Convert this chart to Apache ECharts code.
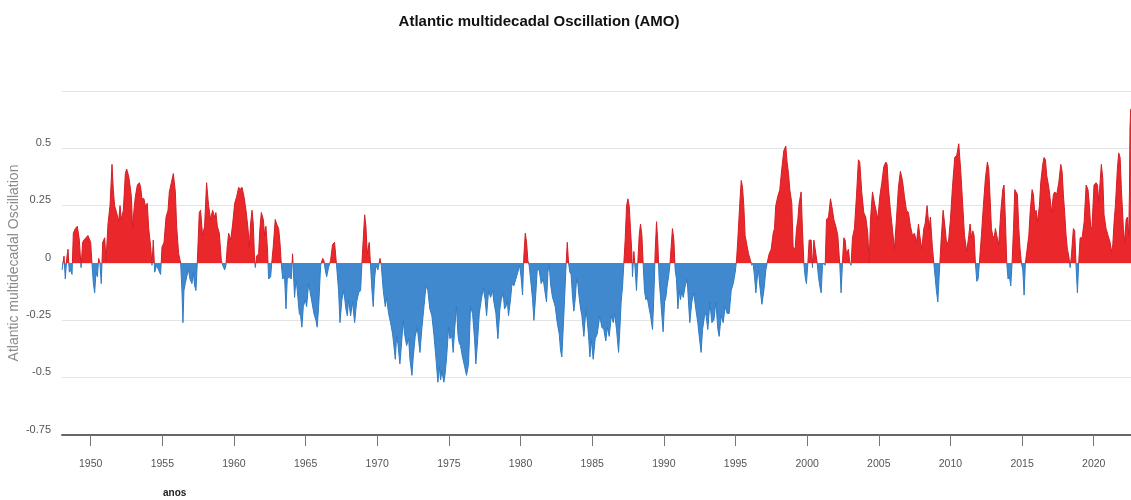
<!DOCTYPE html>
<html><head><meta charset="utf-8">
<script src="https://cdn.jsdelivr.net/npm/echarts@6/dist/echarts.min.js"></script>
<style>html,body{margin:0;padding:0;background:#fff}#chart{width:1131px;height:500px}</style>
</head><body><div id="chart"></div>
<script>
const titleText = 'Atlantic multidecadal Oscillation (AMO)';
const yAxisName = 'Atlantic multidecadal Oscillation';
const xAxisName = 'anos';
const xTickYears = [1950,1955,1960,1965,1970,1975,1980,1985,1990,1995,2000,2005,2010,2015,2020];
const yTickValues = [-0.75,-0.5,-0.25,0,0.25,0.5,0.75];

// [decimal year, AMO index]
const amo1948to1960 = [[1948.00,-0.03],[1948.05,-0.01],[1948.14,0.03],[1948.23,-0.07],[1948.33,0.02],[1948.42,0.06],[1948.51,-0.04],[1948.60,-0.03],[1948.70,-0.05],[1948.79,0.13],[1948.93,0.15],[1949.07,0.16],[1949.21,0.10],[1949.33,-0.02],[1949.44,0.09],[1949.53,0.10],[1949.67,0.11],[1949.81,0.12],[1949.91,0.12],[1950.00,0.09],[1950.09,0.00],[1950.19,-0.09],[1950.28,-0.13],[1950.37,-0.04],[1950.47,-0.06],[1950.56,0.02],[1950.65,0.00],[1950.74,-0.09],[1950.84,0.09],[1950.98,0.11],[1951.07,0.01],[1951.21,0.17],[1951.35,0.25],[1951.49,0.43],[1951.58,0.32],[1951.67,0.25],[1951.81,0.22],[1951.95,0.18],[1952.05,0.25],[1952.14,0.19],[1952.28,0.23],[1952.42,0.39],[1952.51,0.41],[1952.65,0.38],[1952.74,0.34],[1952.84,0.29],[1952.93,0.15],[1953.02,0.23],[1953.12,0.29],[1953.26,0.34],[1953.40,0.35],[1953.49,0.33],[1953.58,0.28],[1953.72,0.28],[1953.81,0.25],[1953.95,0.26],[1954.05,0.15],[1954.19,0.07],[1954.28,-0.01],[1954.37,0.10],[1954.47,-0.04],[1954.60,-0.01],[1954.74,-0.03],[1954.88,-0.05],[1954.98,0.07],[1955.12,0.09],[1955.26,0.20],[1955.40,0.23],[1955.49,0.31],[1955.63,0.35],[1955.77,0.39],[1955.91,0.31],[1956.00,0.16],[1956.14,0.04],[1956.28,0.00],[1956.37,-0.12],[1956.44,-0.26],[1956.51,-0.12],[1956.60,-0.09],[1956.70,-0.06],[1956.84,-0.03],[1956.93,-0.07],[1957.07,-0.09],[1957.16,-0.04],[1957.26,-0.10],[1957.35,-0.12],[1957.44,0.00],[1957.58,0.22],[1957.67,0.23],[1957.81,0.12],[1957.95,0.16],[1958.09,0.35],[1958.23,0.25],[1958.37,0.19],[1958.51,0.23],[1958.65,0.20],[1958.74,0.22],[1958.84,0.16],[1958.98,0.13],[1959.12,0.01],[1959.21,-0.01],[1959.35,-0.03],[1959.44,-0.01],[1959.53,0.07],[1959.63,0.13],[1959.77,0.10],[1959.91,0.17],[1960.05,0.26],[1960.19,0.29],[1960.33,0.33]];

const amo1960to1973 = [[1960.42,0.32],[1960.56,0.33],[1960.70,0.29],[1960.84,0.23],[1960.98,0.15],[1961.07,0.07],[1961.16,0.17],[1961.26,0.23],[1961.35,0.17],[1961.44,0.01],[1961.49,-0.02],[1961.58,0.03],[1961.72,0.04],[1961.81,0.15],[1961.91,0.22],[1962.05,0.19],[1962.14,0.12],[1962.23,0.16],[1962.33,0.07],[1962.42,-0.07],[1962.56,-0.06],[1962.65,0.01],[1962.74,0.07],[1962.88,0.19],[1962.98,0.17],[1963.12,0.15],[1963.21,0.09],[1963.30,0.00],[1963.40,-0.07],[1963.53,-0.06],[1963.63,-0.20],[1963.72,-0.07],[1963.86,-0.06],[1964.00,-0.07],[1964.09,0.04],[1964.23,-0.15],[1964.33,-0.07],[1964.42,-0.12],[1964.56,-0.22],[1964.65,-0.23],[1964.74,-0.28],[1964.84,-0.19],[1964.98,-0.16],[1965.07,-0.19],[1965.21,-0.09],[1965.30,-0.12],[1965.44,-0.17],[1965.58,-0.22],[1965.72,-0.25],[1965.81,-0.28],[1965.91,-0.19],[1966.05,-0.01],[1966.19,0.02],[1966.28,0.01],[1966.37,-0.03],[1966.47,-0.06],[1966.60,-0.02],[1966.74,0.01],[1966.88,0.08],[1967.02,0.09],[1967.16,-0.01],[1967.30,-0.12],[1967.40,-0.26],[1967.53,-0.16],[1967.67,-0.12],[1967.81,-0.20],[1967.91,-0.23],[1968.00,-0.16],[1968.14,-0.23],[1968.28,-0.17],[1968.42,-0.26],[1968.56,-0.17],[1968.70,-0.13],[1968.84,-0.12],[1968.93,0.00],[1969.02,0.10],[1969.12,0.21],[1969.21,0.16],[1969.30,0.04],[1969.44,0.09],[1969.53,-0.01],[1969.63,-0.12],[1969.72,-0.19],[1969.81,-0.07],[1969.91,-0.01],[1970.05,-0.03],[1970.19,0.02],[1970.28,-0.01],[1970.42,-0.12],[1970.56,-0.19],[1970.65,-0.15],[1970.79,-0.22],[1970.93,-0.26],[1971.07,-0.31],[1971.16,-0.36],[1971.26,-0.42],[1971.35,-0.32],[1971.44,-0.35],[1971.58,-0.44],[1971.72,-0.33],[1971.81,-0.25],[1971.91,-0.31],[1972.05,-0.36],[1972.19,-0.33],[1972.28,-0.42],[1972.42,-0.49],[1972.51,-0.41],[1972.65,-0.32],[1972.79,-0.28]];

const amo1973to1985 = [[1972.98,-0.39],[1973.12,-0.28],[1973.26,-0.19],[1973.40,-0.10],[1973.53,-0.12],[1973.67,-0.20],[1973.81,-0.23],[1973.95,-0.31],[1974.09,-0.41],[1974.23,-0.52],[1974.33,-0.45],[1974.42,-0.51],[1974.51,-0.47],[1974.65,-0.52],[1974.74,-0.48],[1974.84,-0.41],[1974.98,-0.28],[1975.07,-0.33],[1975.21,-0.32],[1975.30,-0.39],[1975.40,-0.29],[1975.53,-0.19],[1975.63,-0.31],[1975.72,-0.35],[1975.81,-0.36],[1975.95,-0.41],[1976.09,-0.45],[1976.23,-0.49],[1976.37,-0.44],[1976.51,-0.19],[1976.65,-0.22],[1976.79,-0.33],[1976.88,-0.44],[1976.98,-0.36],[1977.12,-0.22],[1977.26,-0.16],[1977.40,-0.11],[1977.53,-0.16],[1977.63,-0.23],[1977.77,-0.12],[1977.91,-0.15],[1978.05,-0.12],[1978.14,-0.17],[1978.28,-0.22],[1978.42,-0.33],[1978.56,-0.20],[1978.65,-0.16],[1978.79,-0.13],[1978.88,-0.20],[1978.98,-0.19],[1979.07,-0.16],[1979.16,-0.23],[1979.30,-0.16],[1979.40,-0.09],[1979.53,-0.10],[1979.67,-0.07],[1979.81,-0.04],[1979.95,-0.01],[1980.05,-0.07],[1980.14,-0.14],[1980.23,0.03],[1980.33,0.13],[1980.42,0.09],[1980.51,0.01],[1980.60,-0.01],[1980.70,-0.07],[1980.84,-0.16],[1980.93,-0.25],[1981.07,-0.13],[1981.16,-0.03],[1981.30,-0.03],[1981.44,-0.09],[1981.58,-0.07],[1981.67,-0.11],[1981.81,-0.17],[1981.91,-0.04],[1982.00,0.00],[1982.09,-0.09],[1982.23,-0.15],[1982.33,-0.17],[1982.42,-0.19],[1982.56,-0.26],[1982.70,-0.31],[1982.79,-0.38],[1982.88,-0.41],[1982.98,-0.28],[1983.07,-0.16],[1983.16,-0.03],[1983.26,0.09],[1983.35,0.00],[1983.44,-0.04],[1983.53,-0.05],[1983.63,-0.15],[1983.72,-0.21],[1983.81,-0.16],[1983.91,-0.07],[1984.00,-0.09],[1984.09,-0.15],[1984.19,-0.20],[1984.28,-0.23],[1984.42,-0.32],[1984.56,-0.20],[1984.65,-0.25],[1984.74,-0.31],[1984.84,-0.41],[1984.93,-0.33],[1985.07,-0.42],[1985.21,-0.33],[1985.35,-0.31]];

const amo1985to1998 = [[1985.53,-0.23],[1985.67,-0.28],[1985.81,-0.29],[1985.95,-0.34],[1986.05,-0.28],[1986.19,-0.32],[1986.33,-0.23],[1986.47,-0.26],[1986.56,-0.22],[1986.70,-0.29],[1986.84,-0.39],[1986.93,-0.29],[1987.02,-0.17],[1987.12,-0.10],[1987.21,0.00],[1987.30,0.10],[1987.40,0.25],[1987.49,0.28],[1987.58,0.25],[1987.67,0.15],[1987.77,0.04],[1987.81,-0.06],[1987.91,0.05],[1988.00,-0.03],[1988.09,-0.12],[1988.19,0.01],[1988.28,0.12],[1988.37,0.17],[1988.47,0.12],[1988.56,-0.01],[1988.65,-0.12],[1988.74,-0.16],[1988.84,-0.15],[1988.98,-0.20],[1989.07,-0.23],[1989.21,-0.29],[1989.30,-0.15],[1989.40,0.06],[1989.49,0.18],[1989.58,0.09],[1989.67,-0.07],[1989.77,-0.15],[1989.86,-0.23],[1989.95,-0.30],[1990.05,-0.17],[1990.14,-0.15],[1990.23,-0.10],[1990.33,-0.06],[1990.42,-0.01],[1990.51,0.07],[1990.60,0.15],[1990.70,0.10],[1990.79,-0.03],[1990.88,-0.07],[1990.98,-0.20],[1991.07,-0.12],[1991.16,-0.16],[1991.26,-0.12],[1991.35,-0.15],[1991.49,-0.10],[1991.63,-0.07],[1991.72,-0.17],[1991.81,-0.26],[1991.95,-0.17],[1992.09,-0.13],[1992.23,-0.20],[1992.37,-0.26],[1992.47,-0.32],[1992.60,-0.39],[1992.70,-0.29],[1992.84,-0.23],[1992.93,-0.22],[1993.07,-0.29],[1993.21,-0.17],[1993.35,-0.26],[1993.49,-0.25],[1993.63,-0.17],[1993.77,-0.29],[1993.86,-0.32],[1994.00,-0.23],[1994.14,-0.26],[1994.28,-0.19],[1994.42,-0.22],[1994.56,-0.22],[1994.70,-0.12],[1994.84,-0.09],[1994.98,-0.04],[1995.07,0.01],[1995.16,0.10],[1995.30,0.26],[1995.40,0.36],[1995.49,0.33],[1995.58,0.25],[1995.67,0.12],[1995.77,0.12],[1995.91,0.04],[1996.05,0.01],[1996.14,-0.01],[1996.23,0.00],[1996.33,-0.06],[1996.42,-0.13],[1996.51,-0.07],[1996.60,-0.03],[1996.70,-0.10],[1996.84,-0.18],[1996.98,-0.12],[1997.12,-0.03],[1997.21,0.00],[1997.35,0.04],[1997.49,0.06],[1997.63,0.13],[1997.72,0.15],[1997.81,0.25],[1997.95,0.29]];

const amo1998to2010 = [[1998.09,0.32],[1998.23,0.41],[1998.37,0.49],[1998.51,0.51],[1998.60,0.44],[1998.70,0.39],[1998.79,0.32],[1998.93,0.26],[1999.02,0.07],[1999.16,0.06],[1999.26,0.15],[1999.35,0.19],[1999.44,0.26],[1999.58,0.31],[1999.67,0.15],[1999.77,0.00],[1999.86,-0.06],[1999.95,-0.09],[2000.05,0.00],[2000.14,0.10],[2000.28,0.10],[2000.37,-0.02],[2000.47,0.10],[2000.60,0.10],[2000.70,0.00],[2000.79,-0.06],[2000.88,-0.10],[2000.98,-0.13],[2001.07,-0.01],[2001.16,0.00],[2001.26,-0.01],[2001.35,0.19],[2001.49,0.20],[2001.63,0.28],[2001.77,0.23],[2001.86,0.19],[2002.00,0.16],[2002.14,0.12],[2002.28,-0.01],[2002.37,-0.13],[2002.47,0.01],[2002.56,0.11],[2002.65,0.10],[2002.74,0.04],[2002.88,0.06],[2002.98,0.00],[2003.07,-0.01],[2003.16,0.11],[2003.30,0.15],[2003.44,0.29],[2003.58,0.45],[2003.67,0.44],[2003.81,0.31],[2003.95,0.22],[2004.09,0.20],[2004.23,0.13],[2004.33,0.00],[2004.42,0.19],[2004.56,0.31],[2004.70,0.26],[2004.84,0.22],[2004.93,0.19],[2005.07,0.29],[2005.21,0.35],[2005.35,0.42],[2005.49,0.44],[2005.58,0.43],[2005.67,0.33],[2005.81,0.23],[2005.95,0.15],[2006.09,0.06],[2006.23,0.19],[2006.37,0.33],[2006.51,0.40],[2006.65,0.36],[2006.79,0.29],[2006.93,0.23],[2007.07,0.22],[2007.21,0.16],[2007.35,0.12],[2007.49,0.13],[2007.63,0.09],[2007.77,0.17],[2007.86,0.12],[2008.00,0.06],[2008.14,0.15],[2008.23,0.17],[2008.37,0.25],[2008.51,0.15],[2008.60,0.20],[2008.74,0.07],[2008.84,0.00],[2008.93,-0.06],[2009.02,-0.12],[2009.12,-0.17],[2009.21,-0.06],[2009.35,0.10],[2009.49,0.23],[2009.63,0.15],[2009.72,0.09],[2009.86,0.09],[2010.00,0.19],[2010.14,0.33]];

const amo2010to2023 = [[2010.30,0.46],[2010.44,0.47],[2010.58,0.52],[2010.72,0.40],[2010.86,0.25],[2010.98,0.12],[2011.14,0.05],[2011.28,0.12],[2011.37,0.17],[2011.47,0.11],[2011.56,0.14],[2011.65,0.12],[2011.74,0.00],[2011.84,-0.08],[2011.93,-0.07],[2012.02,0.00],[2012.16,0.12],[2012.30,0.25],[2012.44,0.37],[2012.58,0.44],[2012.67,0.41],[2012.77,0.28],[2012.86,0.15],[2012.95,0.12],[2013.05,0.11],[2013.14,0.15],[2013.23,0.12],[2013.37,0.08],[2013.51,0.22],[2013.65,0.32],[2013.74,0.34],[2013.84,0.18],[2013.93,0.00],[2014.02,-0.07],[2014.12,-0.06],[2014.21,-0.10],[2014.30,0.00],[2014.40,0.15],[2014.49,0.32],[2014.58,0.31],[2014.67,0.30],[2014.77,0.15],[2014.86,0.06],[2014.95,0.00],[2015.05,-0.03],[2015.14,-0.14],[2015.23,0.00],[2015.33,0.05],[2015.47,0.12],[2015.56,0.22],[2015.70,0.32],[2015.79,0.30],[2015.88,0.22],[2015.98,0.23],[2016.07,0.18],[2016.21,0.25],[2016.30,0.35],[2016.44,0.43],[2016.53,0.46],[2016.63,0.45],[2016.72,0.38],[2016.81,0.35],[2016.91,0.31],[2017.05,0.22],[2017.19,0.30],[2017.28,0.31],[2017.42,0.30],[2017.56,0.35],[2017.70,0.43],[2017.79,0.40],[2017.88,0.30],[2017.98,0.21],[2018.07,0.12],[2018.16,0.06],[2018.26,0.03],[2018.35,-0.02],[2018.44,0.03],[2018.58,0.15],[2018.67,0.14],[2018.77,-0.02],[2018.86,-0.13],[2018.95,0.00],[2019.05,0.11],[2019.19,0.11],[2019.33,0.18],[2019.47,0.34],[2019.60,0.32],[2019.70,0.25],[2019.79,0.15],[2019.88,0.16],[2020.02,0.34],[2020.16,0.35],[2020.26,0.34],[2020.35,0.27],[2020.44,0.35],[2020.53,0.43],[2020.63,0.37],[2020.72,0.21],[2020.86,0.15],[2021.00,0.12],[2021.14,0.09],[2021.23,0.05],[2021.33,0.08],[2021.42,0.18],[2021.51,0.25],[2021.65,0.41],[2021.74,0.48],[2021.84,0.46],[2021.93,0.32],[2022.07,0.15],[2022.16,0.09],[2022.26,0.19],[2022.35,0.20],[2022.44,0.12],[2022.49,0.30],[2022.53,0.59],[2022.58,0.67],[2022.70,0.68]];

const amoSeries = [].concat(amo1948to1960, amo1960to1973, amo1973to1985, amo1985to1998, amo1998to2010, amo2010to2023);

const SANS = "'Liberation Sans',Arial,sans-serif";
const RED_FILL = '#ea272b', BLUE_FILL = '#4189cf';
const RED_LINE = '#d21f25', BLUE_LINE = '#2f7bc3';

const chart = echarts.init(document.getElementById('chart'), null, {renderer: 'canvas'});
chart.setOption({
  animation: false,
  backgroundColor: '#ffffff',
  title: {
    text: titleText, left: 534, top: 9, textAlign: 'center',
    textStyle: {fontFamily: SANS, fontWeight: 'bold', fontSize: 15, color: '#111'}
  },
  grid: {left: 62, right: 0, top: 91, bottom: 65, containLabel: false, outerBoundsMode: 'none'},
  xAxis: {
    type: 'value', min: 1948, max: 2022.6,
    axisLine: {show: true, onZero: false, lineStyle: {color: '#666', width: 2}},
    axisTick: {show: true, customValues: xTickYears, length: 11, lineStyle: {color: '#777', width: 1}},
    axisLabel: {customValues: xTickYears, margin: 24, color: '#555', fontFamily: SANS, fontSize: 10.5,
      formatter: function (v) { return String(v); }},
    splitLine: {show: false}
  },
  yAxis: {
    type: 'value', min: yTickValues[0], max: yTickValues[yTickValues.length - 1], interval: 0.25,
    name: yAxisName, nameLocation: 'middle', nameGap: 41, nameMoveOverlap: false,
    nameTextStyle: {color: '#8a8a8a', fontSize: 14, fontFamily: SANS},
    axisLine: {show: false}, axisTick: {show: false},
    axisLabel: {
      color: '#555', fontFamily: SANS, fontSize: 11, margin: 11, verticalAlign: 'bottom',
      formatter: function (v) { return Math.abs(v - 0.75) < 1e-9 ? '' : String(v); }
    },
    splitLine: {lineStyle: {color: '#e4e4e4', width: 1}}
  },
  visualMap: [
    {type: 'piecewise', show: false, seriesIndex: 0, dimension: 1,
     pieces: [{gte: -2, lt: 0, color: BLUE_FILL}, {gte: 0, lte: 2, color: RED_FILL}]},
    {type: 'piecewise', show: false, seriesIndex: 1, dimension: 1,
     pieces: [{gte: -2, lt: 0, color: BLUE_LINE}, {gte: 0, lte: 2, color: RED_LINE}]}
  ],
  series: [
    {type: 'line', data: amoSeries, symbol: 'none', showSymbol: false,
     lineStyle: {width: 0}, areaStyle: {opacity: 1}, z: 2},
    {type: 'line', data: amoSeries, symbol: 'none', showSymbol: false,
     lineStyle: {width: 1}, z: 3}
  ],
  graphic: [
    {type: 'text', left: 163, top: 488,
     style: {text: xAxisName, fontFamily: SANS, fontWeight: 'bold', fontSize: 10, fill: '#222'}}
  ]
});
</script>
</body></html>
